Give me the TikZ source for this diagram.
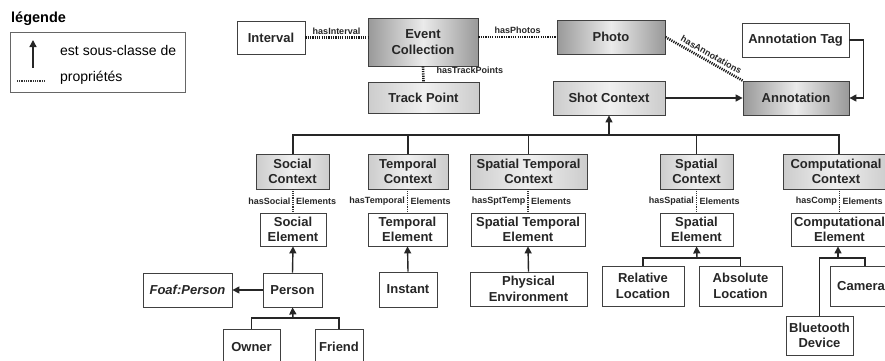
\documentclass[tikz,border=0pt]{standalone}
\usepackage{fontspec}
\setmainfont{Liberation Sans}
\usetikzlibrary{arrows.meta}
\begin{document}
\begin{tikzpicture}[x=1pt,y=-1pt,
 box/.style={draw=black!75, line width=0.8pt, inner sep=0pt, align=center, font=\fontsize{13}{15.5}\selectfont\bfseries, text=black!85},
 wbox/.style={box, fill=white},
 dark/.style={box, left color=black!40, right color=black!40, middle color=black!8},
 light/.style={box, left color=black!20, right color=black!20, middle color=black!6},
 prop/.style={line width=2.6pt, dash pattern=on 1.2pt off 1.1pt, black!90},
 propthin/.style={line width=1.3pt, dash pattern=on 1pt off 0.8pt, black!80},
 lbl/.style={font=\fontsize{9}{10}\selectfont\bfseries, inner sep=1pt, text=black!85},
 sub/.style={line width=1.4pt, black!85},
 arr/.style={sub, -{Triangle[length=7pt,width=7pt]}},
]
\useasboundingbox (0,0) rectangle (885,360);

% legend
\node[anchor=west, font=\fontsize{14.5}{16}\selectfont\bfseries, inner sep=0pt] (legtitle) at (11,19) {légende};
\node[draw=black!60, line width=0.8pt, minimum width=175, minimum height=60, inner sep=0pt] (legbox) at (97.5,62) {};
\coordinate (la1) at (33,68);
\coordinate (la2) at (33,40);
\draw[arr] (la1) -- (la2);
\node[anchor=west, font=\fontsize{14}{16}\selectfont, inner sep=0pt] (legsub) at (60,50) {est sous-classe de};
\coordinate (ld1) at (17,81);
\coordinate (ld2) at (45,81);
\draw[propthin] (ld1) -- (ld2);
\node[anchor=west, font=\fontsize{14}{16}\selectfont, inner sep=0pt] (legprop) at (60,78) {propriétés};

% top row
\node[wbox, minimum width=68, minimum height=33] (Interval) at (271,37.5) {Interval};
\node[dark, minimum width=110, minimum height=48] (EC) at (423,42) {Event\\Collection};
\node[light, minimum width=111, minimum height=31] (TP) at (423.5,97.5) {Track Point};
\node[dark, minimum width=108, minimum height=34] (Photo) at (611,37) {Photo};
\node[wbox, minimum width=107, minimum height=34] (AT) at (795.5,40) {Annotation Tag};
\node[light, minimum width=112, minimum height=34] (SC) at (609,98) {Shot Context};
\node[dark, minimum width=106, minimum height=34] (Ann) at (796,98) {Annotation};

\draw[prop] (Interval.east) -- (EC.west |- Interval.east) node[lbl, midway, above=1pt] {hasInterval};
\draw[prop] (EC.east |- Photo.west) -- (Photo.west) node[lbl, midway, above=1pt] {hasPhotos};
\draw[prop] (EC.south) -- (TP.north) node[lbl, midway, right=11pt, yshift=4pt] {hasTrackPoints};
\draw[prop] (Photo.east) -- (Ann.north west) node[lbl, pos=0.55, above=1.5pt, sloped] {hasAnnotations};
\draw[arr] (SC.east) -- (Ann.west);
\draw[arr] (AT.east) -- ++(14,0) |- (Ann.east);

% contexts
\node[light, minimum width=73, minimum height=35] (SocC) at (292.5,171.5) {Social\\Context};
\node[light, minimum width=80, minimum height=35] (TemC) at (408,171.5) {Temporal\\Context};
\node[light, minimum width=117, minimum height=35] (STC) at (528.5,171.5) {Spatial Temporal\\Context};
\node[light, minimum width=73, minimum height=35] (SpaC) at (696.5,171.5) {Spatial\\Context};
\node[light, minimum width=106, minimum height=35] (ComC) at (836,171.5) {Computational\\Context};

\coordinate (busL) at (293,135);
\coordinate (busR) at (839,135);
\draw[sub] (SocC.north -| busL) -- (busL) -- (busR) -- (ComC.north -| busR);
\draw[sub] (TemC.north) -- (TemC.north |- busL);
\draw[sub] (STC.north) -- (STC.north |- busL);
\draw[sub] (SpaC.north) -- (SpaC.north |- busL);
\draw[arr] (SC.south |- busL) -- (SC.south);

% elements
\node[wbox, minimum width=66, minimum height=33] (SocE) at (293,229.5) {Social\\Element};
\node[wbox, minimum width=79, minimum height=33] (TemE) at (407.5,229.5) {Temporal\\Element};
\node[wbox, minimum width=114, minimum height=33] (STE) at (528,229.5) {Spatial Temporal\\Element};
\node[wbox, minimum width=73, minimum height=33] (SpaE) at (696.5,229.5) {Spatial\\Element};
\node[wbox, minimum width=97, minimum height=33] (ComE) at (839.5,229.5) {Computational\\Element};

\foreach \c/\e/\l in {SocC/SocE/hasSocial, TemC/TemE/hasTemporal, STC/STE/hasSptTemp, SpaC/SpaE/hasSpatial, ComC/ComE/hasComp}{
  \draw[propthin] (\e.north |- \c.south) -- (\e.north);
  \node[lbl, anchor=east] at ([xshift=-1.5pt, yshift=-12pt]\e.north |- \c.south) {\l};
  \node[lbl, anchor=west] at ([xshift=2pt, yshift=-12pt]\e.north |- \c.south) {Elements};
}

% social
\node[wbox, minimum width=59, minimum height=34] (Person) at (292.5,290) {Person};
\node[wbox, minimum width=89, minimum height=34, font=\fontsize{13}{15.5}\selectfont\bfseries\itshape] (Foaf) at (187.5,290) {Foaf:Person};
\node[wbox, minimum width=57, minimum height=36] (Owner) at (251.5,347) {Owner};
\node[wbox, minimum width=48, minimum height=36] (Friend) at (339,347) {Friend};
\draw[arr] (Person.north) -- (SocE.south);
\draw[arr] (Person.west) -- (Foaf.east);
\coordinate (pb) at (293,318);
\draw[sub] (Owner.north) -- (Owner.north |- pb) -- (Friend.north |- pb) -- (Friend.north);
\draw[arr] (pb) -- (Person.south);

% temporal
\node[wbox, minimum width=58, minimum height=35] (Instant) at (408,289.5) {Instant};
\draw[arr] (Instant.north) -- (TemE.south);

% spatial temporal
\node[wbox, minimum width=117, minimum height=34] (Phys) at (528.5,289) {Physical\\Environment};
\draw[arr] (Phys.north) -- (STE.south);

% spatial
\node[wbox, minimum width=82, minimum height=40] (Rel) at (643,286) {Relative\\Location};
\node[wbox, minimum width=83, minimum height=40] (Abs) at (740.5,286) {Absolute\\Location};
\coordinate (sb) at (697,258);
\draw[sub] (Rel.north) -- (Rel.north |- sb) -- (Abs.north |- sb) -- (Abs.north);
\draw[arr] (sb) -- (SpaE.south);

% computational
\node[wbox, minimum width=62, minimum height=40] (Camera) at (861,286) {Camera};
\node[wbox, minimum width=67, minimum height=39] (BT) at (819.5,335.5) {Bluetooth\\Device};
\coordinate (cb) at (838,258);
\draw[sub] (BT.north) -- (BT.north |- cb) -- ([xshift=4pt]Camera.north |- cb) -- ([xshift=4pt]Camera.north);
\draw[arr] (cb) -- (ComE.south -| cb);
\end{tikzpicture}
\end{document}
